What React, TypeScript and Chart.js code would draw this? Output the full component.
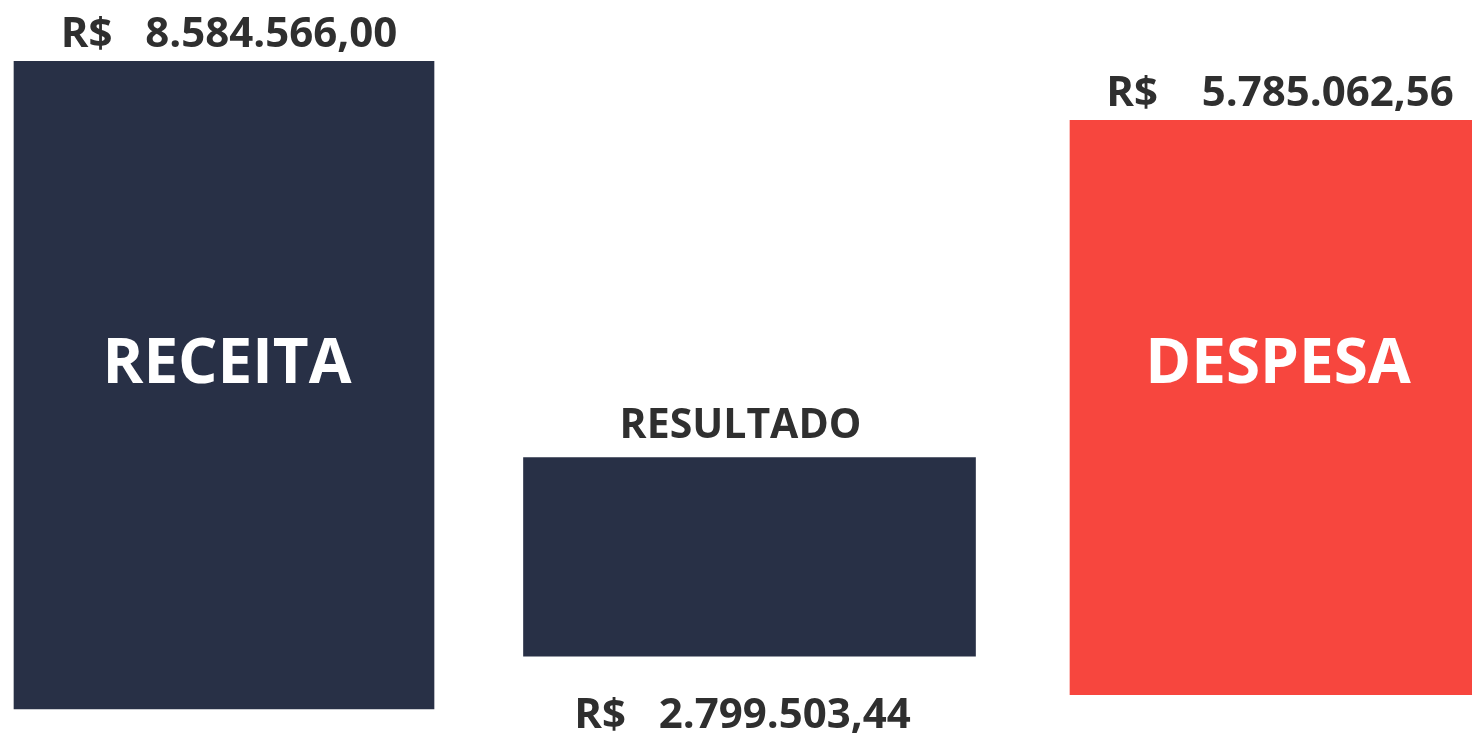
import React, { useEffect, useRef } from "react";
import { Chart, registerables } from "chart.js";

Chart.register(...registerables);

// Categories and the amounts printed on the chart (R$)
const categories = ["RECEITA", "RESULTADO", "DESPESA"];
const amountsBRL = [8584566.0, 2799503.44, 5785062.56];

// Bar extents as drawn in the picture (in R$ millions, the drawing is not to a common scale)
const barBottoms = [0, 0.7, 0.19];
const barTops = [8.58, 3.33, 7.8];

const barColors = ["#283046", "#283046", "#f7463e"];
const barWidths = [420, 452, 410];
const currencyGaps = [3, 3, 4];

const formatBRL = (v: number, gap: number) => {
  const fixed = v.toFixed(2);
  const [intPart, dec] = fixed.split(".");
  const withDots = intPart.replace(/\B(?=(\d{3})+(?!\d))/g, ".");
  return `R$${" ".repeat(gap)}${withDots},${dec}`;
};

const FONT = "'Open Sans', 'Noto Sans', sans-serif";
const TEXT_DARK = "#2f2f2f";

const labelPlugin = {
  id: "barLabels",
  afterDatasetsDraw(chart: any) {
    const ctx = chart.ctx;
    const area = chart.chartArea;
    ctx.save();
    categories.forEach((name, i) => {
      const meta = chart.getDatasetMeta(i);
      const el: any = meta.data[i];
      if (!el) return;
      const top = Math.min(el.y, el.base);
      const bottom = Math.max(el.y, el.base);
      const cx = el.x;
      const valueText = formatBRL(amountsBRL[i], currencyGaps[i]);
      ctx.textAlign = "center";
      ctx.textBaseline = "alphabetic";
      if (i === 1) {
        // RESULTADO: name above, value below
        ctx.fillStyle = TEXT_DARK;
        ctx.font = `bold 41px ${FONT}`;
        ctx.fillText(name, cx - 9, top - 20);
        ctx.font = `bold 42px ${FONT}`;
        ctx.fillText(valueText, cx - 7, bottom + 72);
      } else {
        ctx.fillStyle = TEXT_DARK;
        ctx.font = `bold 42px ${FONT}`;
        ctx.fillText(valueText, cx + 5, top - 14);
        ctx.fillStyle = "#ffffff";
        ctx.font = `bold 62px ${FONT}`;
        ctx.textBaseline = "middle";
        const midY = area.top + (area.bottom - area.top) * 0.47;
        ctx.fillText(name, cx + 3, midY);
      }
    });
    ctx.restore();
  },
};

export default function App() {
  const canvasRef = useRef<HTMLCanvasElement | null>(null);

  useEffect(() => {
    if (!canvasRef.current) return;
    const datasets = categories.map((name, i) => ({
      label: name,
      data: categories.map((_, j) => (j === i ? [barBottoms[i], barTops[i]] : null)),
      backgroundColor: barColors[i],
      borderWidth: 0,
      barThickness: barWidths[i],
      grouped: false,
      clip: false as any,
    }));
    const chart = new Chart(canvasRef.current, {
      type: "bar",
      data: { labels: categories, datasets: datasets as any },
      options: {
        animation: false,
        responsive: true,
        maintainAspectRatio: false,
        layout: { padding: { left: 224, right: 197, top: 61, bottom: 29 } },
        plugins: {
          legend: { display: false },
          tooltip: { enabled: false },
        },
        scales: {
          x: { display: false, offset: false, grid: { display: false } },
          y: { display: false, min: 0, max: 8.584566, grid: { display: false } },
        },
      },
      plugins: [labelPlugin],
    });
    return () => chart.destroy();
  }, []);

  return (
    <div
      style={{
        position: "absolute",
        left: 0,
        top: 0,
        width: "1472px",
        height: "738px",
        background: "#ffffff",
        overflow: "hidden",
      }}
    >
      <canvas ref={canvasRef} />
    </div>
  );
}
